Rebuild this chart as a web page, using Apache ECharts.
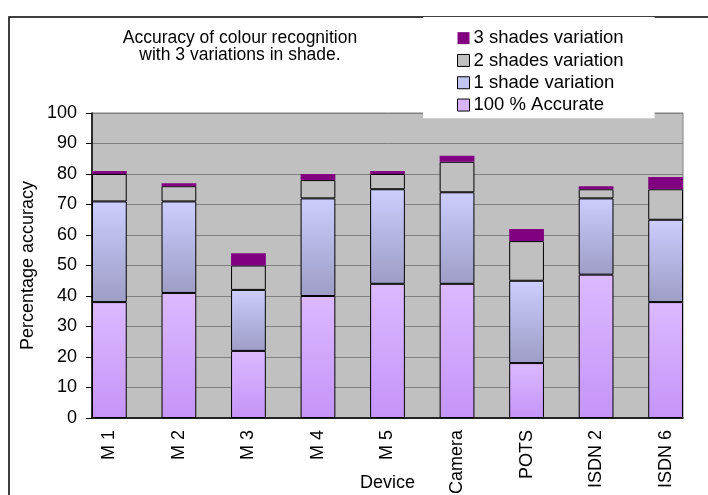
<!DOCTYPE html>
<html>
<head>
<meta charset="utf-8">
<script src="https://cdn.jsdelivr.net/npm/echarts@6/dist/echarts.min.js"></script>
<style>
html, body {margin: 0; padding: 0; background: #fff;}
#chart {width: 708px; height: 495px;}
</style>
</head>
<body>
<div id="chart"></div>
<script>
// devices, one bar each (the original sheet had a blank row between them)
var devices = ['M 1', 'M 2', 'M 3', 'M 4', 'M 5', 'Camera', 'POTS', 'ISDN 2', 'ISDN 6'];
var accurate = [38, 41, 22, 40, 44, 44, 18, 47, 38];
var shade1 = [33, 30, 20, 32, 31, 30, 27, 25, 27];
var shade2 = [9, 5, 8, 6, 5, 10, 13, 3, 10];
var shade3 = [1, 1, 4, 2, 1, 2, 4, 1, 4];
var y_ticks = [0, 10, 20, 30, 40, 50, 60, 70, 80, 90, 100];

var font = 'Arial, "Liberation Sans", sans-serif';

// put an empty slot between each device
function spaced(arr, blank) {
    var out = [];
    arr.forEach((v, i) => {
        if (i > 0) out.push(blank);
        out.push(v);
    });
    return out;
}

function grad(top, bottom) {
    return {type: 'linear', x: 0, y: 0, x2: 0, y2: 1,
        colorStops: [{offset: 0, color: top}, {offset: 1, color: bottom}]};
}

var edge = {borderColor: '#000', borderWidth: 1};
var styles = {
    '100 % Accurate': Object.assign({color: grad('#dcb9ff', '#c594f8')}, edge),
    '1 shade variation': Object.assign({color: grad('#cdcdff', '#9d9dc6')}, edge),
    '2 shades variation': Object.assign({color: '#c0c0c0'}, edge),
    '3 shades variation': {color: '#800080', borderWidth: 0},
};
var legend_icons = {
    '100 % Accurate': {color: '#d8b4ff', borderColor: '#000', borderWidth: 1},
    '1 shade variation': {color: '#c4c4f0', borderColor: '#000', borderWidth: 1},
    '2 shades variation': {color: '#c0c0c0', borderColor: '#000', borderWidth: 1},
    '3 shades variation': {color: '#800080', borderWidth: 0},
};
var series_data = {
    '100 % Accurate': accurate,
    '1 shade variation': shade1,
    '2 shades variation': shade2,
    '3 shades variation': shade3,
};

var series = Object.keys(series_data).map(name => ({
    name: name,
    type: 'bar',
    stack: 'all',
    barWidth: '100%',
    barCategoryGap: '0%',
    itemStyle: styles[name],
    emphasis: {disabled: true},
    data: spaced(series_data[name], null),
}));

var legend_order = ['3 shades variation', '2 shades variation', '1 shade variation', '100 % Accurate'];

var chart = echarts.init(document.getElementById('chart'));
chart.setOption({
    animation: false,
    textStyle: {fontFamily: font, color: '#000'},
    graphic: [
        {type: 'rect', z: 0, silent: true,
            shape: {x: 9, y: 17, width: 900, height: 700},
            style: {fill: 'none', stroke: '#000', lineWidth: 1.5}},
        {type: 'text', z: 10, silent: true, x: 240, y: 47,
            style: {text: 'Accuracy of colour recognition\nwith 3 variations in shade.',
                font: '17.5px ' + font, fill: '#000', align: 'center', verticalAlign: 'middle', lineHeight: 17}},
    ],
    legend: {
        left: 423, top: 17,
        orient: 'vertical',
        backgroundColor: '#fff',
        padding: [10, 31, 2, 34],
        itemGap: 0,
        itemWidth: 12, itemHeight: 12,
        icon: 'rect',
        selectedMode: false,
        z: 5,
        textStyle: {fontSize: 18.5, lineHeight: 22.3, color: '#000', fontFamily: font, padding: [0, 0, 0, -1]},
        data: legend_order.map(n => ({name: n, itemStyle: legend_icons[n]})),
    },
    grid: {
        left: 92, right: 25, top: 113, bottom: 77,
        containLabel: false, outerBoundsMode: 'none',
        show: true, backgroundColor: '#c0c0c0', borderColor: '#808080', borderWidth: 1,
    },
    xAxis: {
        type: 'category',
        data: spaced(devices, ''),
        boundaryGap: true,
        name: 'Device', nameLocation: 'middle', nameGap: 56, nameMoveOverlap: false,
        nameTextStyle: {fontSize: 18, color: '#000'},
        axisLine: {lineStyle: {color: '#000', width: 1.5}},
        axisTick: {interval: 0, length: 6, lineStyle: {color: '#000'}},
        axisLabel: {interval: 0, rotate: 90, margin: 12, fontSize: 18, color: '#000'},
    },
    yAxis: {
        type: 'value',
        min: y_ticks[0], max: y_ticks[y_ticks.length - 1], interval: 10,
        name: 'Percentage accuracy', nameLocation: 'middle', nameGap: 55, nameMoveOverlap: false,
        nameTextStyle: {fontSize: 18, color: '#000'},
        axisLine: {show: true, lineStyle: {color: '#000', width: 1.5}},
        axisTick: {show: true, length: 6, lineStyle: {color: '#000'}},
        axisLabel: {fontSize: 18, color: '#000', margin: 15},
        splitLine: {lineStyle: {color: '#808080', width: 1}},
    },
    series: series,
});
</script>
</body>
</html>
